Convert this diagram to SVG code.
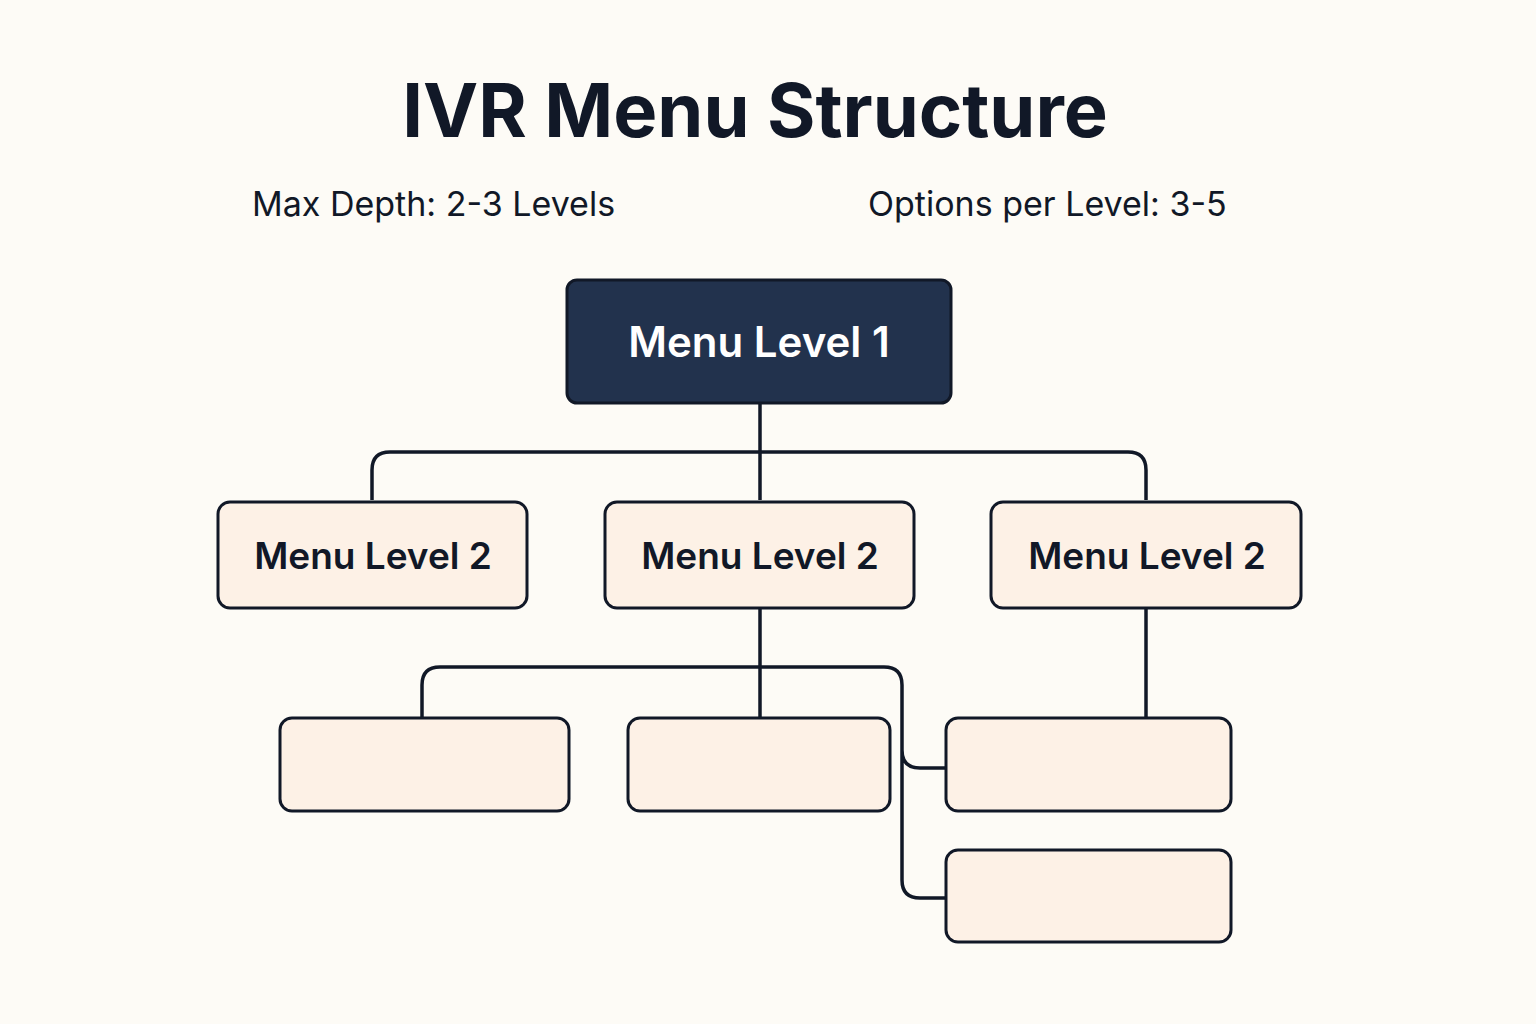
<svg xmlns="http://www.w3.org/2000/svg" width="1536" height="1024" viewBox="0 0 1536 1024">
<style>
.t{font-family:Inter,"Liberation Sans",sans-serif;fill:#111827}
.b{fill:#fdf1e6;stroke:#111827;stroke-width:3}
.c{fill:none;stroke:#111827;stroke-width:3.5}
.l2{font-size:37px;font-weight:600;text-anchor:middle}
</style>
<rect width="1536" height="1024" fill="#fdfbf6"/>
<text class="t" x="755" y="137" font-size="74" font-weight="700" text-anchor="middle">IVR Menu Structure</text>
<text class="t" x="252" y="216" font-size="34" fill="#222">Max Depth: 2-3 Levels</text>
<text class="t" x="868" y="216" font-size="34" fill="#222">Options per Level: 3-5</text>
<g id="connectors">
<path class="c" d="M760 403V500M372 500V470Q372 452 390 452H1128Q1146 452 1146 470V500"/>
<path class="c" d="M760 608V718M422 718V685Q422 667 440 667H884Q902 667 902 685V880Q902 898 920 898H946M902 750Q902 768 920 768H946"/>
<path class="c" d="M1146 608V718"/>
</g>
<g id="n1"><rect x="567" y="280" width="384" height="123" rx="10" fill="#22324d" stroke="#111827" stroke-width="3"/><text class="t" x="759" y="357" font-size="42" font-weight="600" text-anchor="middle" style="fill:#fff">Menu Level 1</text></g>
<g id="n2a"><rect class="b" x="218" y="502" width="309" height="106" rx="12"/><text class="t l2" x="373" y="569">Menu Level 2</text></g>
<g id="n2b"><rect class="b" x="605" y="502" width="309" height="106" rx="12"/><text class="t l2" x="760" y="569">Menu Level 2</text></g>
<g id="n2c"><rect class="b" x="991" y="502" width="310" height="106" rx="12"/><text class="t l2" x="1147" y="569">Menu Level 2</text></g>
<g id="n3a"><rect class="b" x="280" y="718" width="289" height="93" rx="12"/></g>
<g id="n3b"><rect class="b" x="628" y="718" width="262" height="93" rx="12"/></g>
<g id="n3c"><rect class="b" x="946" y="718" width="285" height="93" rx="12"/></g>
<g id="n3d"><rect class="b" x="946" y="850" width="285" height="92" rx="12"/></g>
</svg>
